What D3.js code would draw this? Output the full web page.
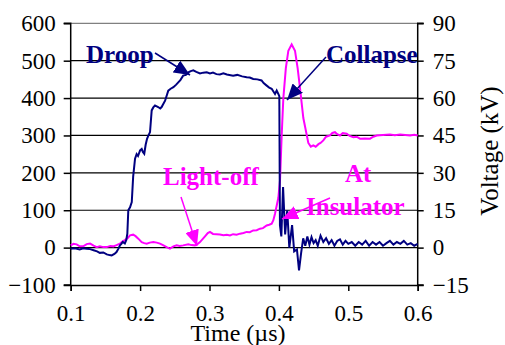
<html>
  <head>
    <style>
      body { margin: 0; background: #fff; }
      text { font-family: "Liberation Serif", "Times New Roman", serif; }
    </style>
  </head>
  <body>
    <script src="https://d3js.org/d3.v7.min.js"></script>
    <svg id="chart" width="505" height="345"></svg>
    <script>
      // current trace (left axis)
      const currentTime = [0.100, 0.106, 0.113, 0.118, 0.123, 0.128, 0.133, 0.138, 0.142, 0.147, 0.152, 0.156, 0.159, 0.163, 0.166, 0.169, 0.171, 0.173, 0.175, 0.178, 0.180, 0.1816, 0.183, 0.1855, 0.188, 0.190, 0.1927, 0.195, 0.197, 0.200, 0.2023, 0.204, 0.206, 0.208, 0.210, 0.212, 0.2143, 0.2167, 0.219, 0.2215, 0.224, 0.226, 0.229, 0.231, 0.236, 0.2406, 0.244, 0.248, 0.252, 0.255, 0.258, 0.262, 0.266, 0.2695, 0.273, 0.2767, 0.281, 0.2863, 0.291, 0.296, 0.3007, 0.305, 0.31, 0.315, 0.32, 0.325, 0.334, 0.34, 0.347, 0.3536, 0.358, 0.363, 0.369, 0.375, 0.378, 0.382, 0.386, 0.3896, 0.3944, 0.3968, 0.3992, 0.4006, 0.4015, 0.4035, 0.406, 0.409, 0.412, 0.415, 0.419, 0.422, 0.426, 0.429, 0.432, 0.435, 0.438, 0.441, 0.444, 0.447, 0.45, 0.453, 0.456, 0.46, 0.464, 0.468, 0.472, 0.476, 0.48, 0.484, 0.488, 0.492, 0.496, 0.5, 0.505, 0.51, 0.515, 0.52, 0.525, 0.53, 0.535, 0.54, 0.545, 0.55, 0.555, 0.56, 0.565, 0.57, 0.575, 0.58, 0.585, 0.59, 0.595, 0.6];
      const currentVals = [-3, -2, -5, -2, -3, -4, -7, -10, -14, -13, -18, -20, -21, -17, -12, -2, 6, 10, 15, 11, 20, 37, 100, 108, 122, 190, 238, 250, 245, 260, 264, 256, 251, 275, 291, 300, 309, 367, 375, 380, 378, 376, 372, 376, 393, 420, 425, 429, 436, 442, 448, 460, 462, 469, 472, 474, 470, 466, 468, 469, 466, 468, 464, 463, 466, 463, 460, 462, 458, 456, 455, 451, 450, 447, 440, 434, 428, 425, 411, 420, 411, 405, 60, 30, 162, 35, 100, 0, 60, -10, -5, -61, -15, 25, 5, 30, 8, 28, 12, 20, 5, 32, 15, 25, 10, 20, 5, 18, 22, 8, 18, 10, 15, 5, 15, 8, 18, 5, 15, 8, 15, 5, 12, 18, 8, 15, 10, 18, 8, 12, 5, 10];

      // voltage trace (right axis, kV)
      const voltTime = [0.100, 0.104, 0.1086, 0.113, 0.118, 0.123, 0.128, 0.133, 0.1375, 0.142, 0.147, 0.152, 0.157, 0.1614, 0.166, 0.171, 0.175, 0.178, 0.182, 0.1855, 0.190, 0.1935, 0.1974, 0.2023, 0.206, 0.2095, 0.214, 0.219, 0.224, 0.2287, 0.233, 0.2383, 0.243, 0.248, 0.2527, 0.257, 0.262, 0.2695, 0.274, 0.279, 0.283, 0.2863, 0.2935, 0.2975, 0.3007, 0.305, 0.31, 0.315, 0.32, 0.325, 0.3295, 0.334, 0.339, 0.344, 0.349, 0.3536, 0.358, 0.363, 0.368, 0.3728, 0.377, 0.3824, 0.386, 0.3896, 0.392, 0.3944, 0.3992, 0.4016, 0.404, 0.4064, 0.41, 0.4136, 0.4184, 0.4232, 0.427, 0.4304, 0.4352, 0.4424, 0.446, 0.4496, 0.453, 0.457, 0.46, 0.464, 0.468, 0.4736, 0.477, 0.4808, 0.484, 0.488, 0.492, 0.4977, 0.502, 0.5073, 0.512, 0.5169, 0.524, 0.5313, 0.536, 0.541, 0.55, 0.56, 0.567, 0.5747, 0.582, 0.589, 0.595, 0.6];
      const voltKV = [0.9, 1.5, 1.3, 0.5, 0.5, 1.4, 1.6, 0.8, 0.2, 0.5, 0.2, 0.2, 0.6, 0.5, 1.0, 1.6, 2.5, 3.0, 3.8, 4.9, 5.2, 4.6, 3.6, 2.2, 1.8, 1.6, 2.0, 2.2, 2.0, 1.6, 1.0, 0.2, -0.4, 0.5, 0.9, 0.7, 0.9, 1.3, 1.0, 0.9, 1.5, 2.2, 4.5, 5.8, 6.3, 5.5, 5.4, 5.3, 5.0, 5.2, 4.9, 5.4, 5.2, 5.6, 5.9, 6.3, 6.2, 6.9, 7.0, 7.6, 7.8, 8.9, 9.2, 9.6, 11, 13.6, 20, 27, 45, 60, 72, 79, 81.5, 79, 72, 64, 52, 42, 40.5, 41, 40.5, 41.5, 42, 43, 44.5, 45, 46, 46.3, 45.5, 45, 46, 45.7, 44.8, 44.3, 44.5, 43.7, 43.8, 43.7, 44.5, 45, 45.2, 45.4, 45.1, 45.4, 45.2, 45, 45.3, 45];

      const xTicks = [0.1, 0.2, 0.3, 0.4, 0.5, 0.6];
      const leftTicks = [-100, 0, 100, 200, 300, 400, 500, 600];
      const rightTicks = [-15, 0, 15, 30, 45, 60, 75, 90];

      const svg = d3.select('#chart');
      const plotL = 70.7, plotR = 417.7, plotT = 23.3, plotB = 285;

      const x = d3.scaleLinear().domain([0.1, 0.6]).range([plotL, plotR]);
      const y = d3.scaleLinear().domain([-100, 600]).range([plotB, plotT]);
      const y2 = d3.scaleLinear().domain([-15, 90]).range([plotB, plotT]);

      // gridlines
      svg.append('g')
        .selectAll('line')
        .data(leftTicks.slice(1))
        .enter()
        .append('line')
        .attr('x1', plotL)
        .attr('x2', plotR)
        .attr('y1', (d) => y(d))
        .attr('y2', (d) => y(d))
        .attr('stroke', (d) => (d === 600 ? '#808080' : '#000'))
        .attr('stroke-width', 1.2);

      const fontSize = '23px';
      const serif = '"Liberation Serif", "Times New Roman", serif';

      const gx = svg.append('g')
        .attr('transform', `translate(0,${plotB})`)
        .call(d3.axisBottom(x).tickValues(xTicks).tickSize(6).tickPadding(8).tickFormat(d3.format('.1f')));
      const gy = svg.append('g')
        .attr('transform', `translate(${plotL},0)`)
        .call(d3.axisLeft(y).tickValues(leftTicks).tickSize(7).tickPadding(8));
      const gy2 = svg.append('g')
        .attr('transform', `translate(${plotR},0)`)
        .call(d3.axisRight(y2).tickValues(rightTicks).tickSize(6).tickPadding(9));

      [gx, gy, gy2].forEach((g) => {
        g.select('.domain').attr('stroke', '#000').attr('stroke-width', 1.5);
        g.selectAll('.tick line').attr('stroke', '#000').attr('stroke-width', 1.5);
        g.selectAll('.tick text')
          .style('font-family', serif)
          .style('font-size', fontSize)
          .attr('fill', '#000');
      });
      gy.select('.domain').attr('d', `M-7,${plotB}H0V${plotT}H-7`);
      gy2.select('.domain').attr('d', `M6,${plotB}H0V${plotT}H6`);
      gx.selectAll('.tick text').attr('dy', '22px');

      // lines
      const currentLine = d3.line()
        .x((d, i) => x(currentTime[i]))
        .y((d) => y(d));
      const voltLine = d3.line()
        .x((d, i) => x(voltTime[i]))
        .y((d) => y2(d));

      svg.append('path')
        .attr('d', voltLine(voltKV))
        .attr('fill', 'none')
        .attr('stroke', '#ff00ff')
        .attr('stroke-width', 2);
      svg.append('path')
        .attr('d', currentLine(currentVals))
        .attr('fill', 'none')
        .attr('stroke', '#000080')
        .attr('stroke-width', 2);

      // arrow markers
      const defs = svg.append('defs');
      [['navy', '#000080'], ['mag', '#ff00ff']].forEach(([id, c]) => {
        defs.append('marker')
          .attr('id', 'arrow-' + id)
          .attr('markerUnits', 'userSpaceOnUse')
          .attr('markerWidth', 16)
          .attr('markerHeight', 14)
          .attr('refX', 16)
          .attr('refY', 7)
          .attr('orient', 'auto')
          .append('path')
          .attr('d', 'M0,0L16,7L0,14Z')
          .attr('fill', c);
      });

      const notes = [
        { text: 'Droop', x: 86, y: 63, color: '#000080', arrow: [155, 53, 190, 75], m: 'navy' },
        { text: 'Collapse', x: 326, y: 63, color: '#000080', arrow: [326, 57, 287, 100], m: 'navy' },
        { text: 'Light-off', x: 163, y: 185, color: '#ff00ff', arrow: [181, 197, 197, 246], m: 'mag' },
        { text: 'At', x: 345, y: 182, color: '#ff00ff' },
        { text: 'Insulator', x: 306, y: 215, color: '#ff00ff', arrow: [330, 198, 282, 219], m: 'mag' },
      ];

      notes.forEach((n) => {
        if (n.arrow) {
          svg.append('line')
            .attr('x1', n.arrow[0]).attr('y1', n.arrow[1])
            .attr('x2', n.arrow[2]).attr('y2', n.arrow[3])
            .attr('stroke', n.color)
            .attr('stroke-width', 1.5)
            .attr('marker-end', `url(#arrow-${n.m})`);
        }
        svg.append('text')
          .text(n.text)
          .attr('x', n.x)
          .attr('y', n.y)
          .attr('fill', n.color)
          .attr('font-weight', 'bold')
          .attr('font-size', '25px');
      });

      // axis titles
      svg.append('text')
        .text('Time (µs)')
        .attr('x', 238)
        .attr('y', 341)
        .attr('text-anchor', 'middle')
        .attr('font-size', '24px');
      svg.append('text')
        .text('Voltage (kV)')
        .attr('transform', 'translate(498,151) rotate(-90)')
        .attr('text-anchor', 'middle')
        .attr('font-size', '25px');
    </script>
  </body>
</html>
